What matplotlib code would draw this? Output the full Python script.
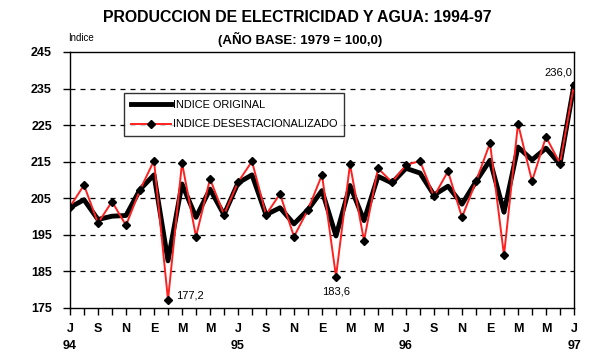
import matplotlib
matplotlib.use("Agg")
import matplotlib.pyplot as plt

plt.rcParams['font.family'] = ['Liberation Sans', 'DejaVu Sans']

# monthly values, Jul 1994 .. Jul 1997
original = [202.5, 204.6, 199.2, 200.1, 200.3, 207.4, 211.4, 187.9, 208.9,
            199.8, 207.5, 200.5, 209.2, 211.4, 200.5, 202.4, 198.0, 201.9,
            207.1, 194.7, 208.5, 198.9, 211.0, 209.2, 213.2, 211.9, 205.9,
            208.3, 203.4, 209.6, 215.4, 201.2, 219.0, 215.5, 218.7, 214.3,
            236.0]
desest = [202.7, 208.6, 198.2, 204.1, 197.6, 207.3, 215.3, 177.2, 214.7,
          194.5, 210.3, 200.5, 209.4, 215.1, 200.5, 206.2, 194.5, 201.9,
          211.4, 183.6, 214.3, 193.4, 213.2, 209.4, 214.1, 215.2, 205.5,
          212.4, 199.8, 209.6, 220.1, 189.4, 225.4, 209.7, 221.8, 214.5,
          236.0]
month_labels = ["J", "S", "N", "E", "M", "M"] * 3 + ["J"]
year_labels = {0: "94", 12: "95", 24: "96", 36: "97"}
y_ticks = [175, 185, 195, 205, 215, 225, 235, 245]

months = list(range(len(original)))

fig = plt.figure(figsize=(5.92, 3.6), dpi=100)
ax = fig.add_axes([70 / 592, 1 - 308 / 360, 504 / 592, 256 / 360])

for yv in y_ticks[1:-1]:
    ax.axhline(yv, color="black", lw=0.9, ls=(0, (4, 4)), zorder=1)

ax.plot(months, original, color="black", lw=3.5, zorder=2,
        label="INDICE ORIGINAL")
ax.plot(months, desest, color="#ff2020", lw=1.4, marker="D", markersize=4.2,
        markerfacecolor="black", markeredgecolor="black", zorder=3,
        label="INDICE DESESTACIONALIZADO")

ax.set_xlim(0, 36)
ax.set_ylim(175, 245)
ax.set_yticks(y_ticks)
ax.set_yticklabels([str(v) for v in y_ticks], fontweight="bold", fontsize=9)

ax.set_xticks(range(0, 37, 2))
ax.set_xticks(range(0, 37), minor=True)
xl = []
for i, m in zip(range(0, 37, 2), month_labels):
    xl.append(m + "\n" + year_labels.get(i, ""))
ax.set_xticklabels(xl, fontweight="bold", fontsize=9, linespacing=1.55)
ax.tick_params(axis="x", which="both", direction="out", length=5, width=1, pad=6)
ax.tick_params(axis="y", direction="out", length=5, width=1, pad=8)
for s in ax.spines.values():
    s.set_linewidth(1)

ax.annotate("236,0", (36, 236.0), xytext=(-1, 5), textcoords="offset points",
            ha="right", va="bottom", fontsize=8)
ax.annotate("177,2", (7, 177.2), xytext=(6, 3), textcoords="offset points",
            ha="left", va="center", fontsize=8)
ax.annotate("183,6", (19, 183.6), xytext=(0, -7), textcoords="offset points",
            ha="center", va="top", fontsize=8)

leg = ax.legend(loc="upper left", bbox_to_anchor=(54 / 504, 1 - 41 / 256),
                fontsize=7.9, frameon=True, fancybox=False, edgecolor="black",
                handlelength=3.7, borderpad=0.6, labelspacing=0.9,
                handletextpad=0.15, borderaxespad=0)
leg.get_frame().set_linewidth(1)

fig.text(297 / 592, 1 - 17 / 360, "PRODUCCION DE ELECTRICIDAD Y AGUA: 1994-97",
         ha="center", va="center", fontsize=11.4, fontweight="bold")
fig.text(300 / 592, 1 - 39 / 360, "(AÑO BASE: 1979 = 100,0)",
         ha="center", va="center", fontsize=9.5, fontweight="bold")
fig.text(68 / 592, 1 - 38 / 360, "Indice", ha="left", va="center", fontsize=7)

fig.savefig("out.png", dpi=100)
